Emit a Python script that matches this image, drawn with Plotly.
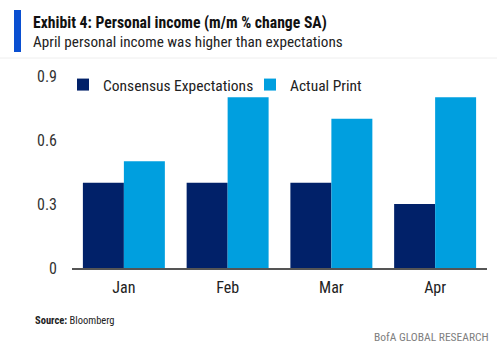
import plotly.graph_objects as go

categories = ["Jan", "Feb", "Mar", "Apr"]
consensus = [0.4, 0.4, 0.4, 0.3]
actual = [0.5, 0.8, 0.7, 0.8]
y_ticks = [0, 0.3, 0.6, 0.9]
y_tick_labels = ["0", "0.3", "0.6", "0.9"]

FONT = "Roboto Condensed, sans-serif"
W, H = 497, 353
L, R, T, B = 72, 10, 76, 85
PW, PH = W - L - R, H - T - B

def px(x):
    return (x - L) / PW

def py(y):
    return (H - B - y) / PH

fig = go.Figure()
fig.add_bar(x=categories, y=consensus, name="Consensus Expectations", legend="legend",
            marker=dict(color="#012169", line=dict(width=0)))
fig.add_bar(x=categories, y=actual, name="Actual Print", legend="legend2",
            marker=dict(color="#009FDF", line=dict(width=0)))

legend_common = dict(orientation="h", xanchor="left", yanchor="middle",
                     font=dict(size=15.5, color="#222222", family=FONT), bgcolor="rgba(0,0,0,0)",
                     itemwidth=30)

fig.update_layout(
    width=W, height=H,
    margin=dict(l=L, r=R, t=T, b=B),
    paper_bgcolor="white", plot_bgcolor="white",
    barmode="group", bargap=0.21, bargroupgap=0,
    font=dict(family=FONT, color="#222222", size=16),
    showlegend=True,
    legend=dict(x=px(63), y=py(85), **legend_common),
    legend2=dict(x=px(250), y=py(85), **legend_common),
    xaxis=dict(showgrid=False, showline=True, linecolor="#555555", linewidth=1.5,
               ticks="", tickfont=dict(size=16, color="#222222"), ticklabelstandoff=4),
    yaxis=dict(range=[0, 0.9], tickvals=y_ticks, ticktext=y_tick_labels,
               showgrid=False, zeroline=False, showline=False, ticks="",
               tickfont=dict(size=16, color="#333333"), ticklabelstandoff=14),
    shapes=[
        dict(type="rect", xref="paper", yref="paper", x0=px(14), x1=px(21), y0=py(10), y1=py(52),
             fillcolor="#0A4FD1", line=dict(width=0)),
        dict(type="line", xref="paper", yref="paper", x0=px(0), x1=px(497), y0=py(58), y1=py(58),
             line=dict(color="#EEEEEE", width=1)),
    ],
    annotations=[
        dict(text="<b>Exhibit 4: Personal income (m/m % change SA)</b>", xref="paper", yref="paper",
             x=px(31), y=py(22), xanchor="left", yanchor="middle", showarrow=False,
             font=dict(size=15.7, color="#111111", family=FONT)),
        dict(text="April personal income was higher than expectations", xref="paper", yref="paper",
             x=px(31), y=py(42), xanchor="left", yanchor="middle", showarrow=False,
             font=dict(size=15.2, color="#222222", family=FONT)),
        dict(text="<b>Source:</b> Bloomberg", xref="paper", yref="paper",
             x=px(33), y=py(320), xanchor="left", yanchor="middle", showarrow=False,
             font=dict(size=10.5, color="#222222", family=FONT)),
        dict(text="BofA GLOBAL RESEARCH", xref="paper", yref="paper",
             x=px(491), y=py(337), xanchor="right", yanchor="middle", showarrow=False,
             font=dict(size=11.5, color="#808080", family=FONT)),
    ],
)

fig.write_html("out.html")
